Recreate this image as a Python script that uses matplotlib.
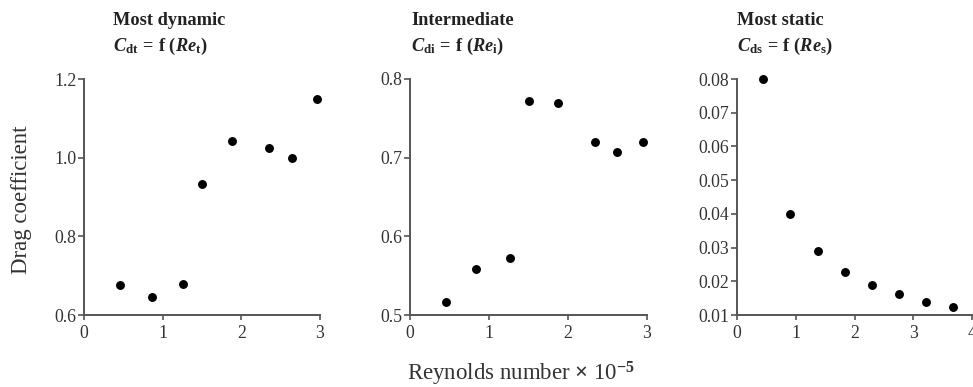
import matplotlib
matplotlib.use("Agg")
import matplotlib.pyplot as plt
from matplotlib.ticker import FormatStrFormatter

plt.rcParams['font.family'] = ['Liberation Serif', 'DejaVu Serif']
plt.rcParams['mathtext.fontset'] = 'custom'
plt.rcParams['mathtext.rm'] = 'Liberation Serif:bold'
plt.rcParams['mathtext.it'] = 'Liberation Serif:italic:bold'
plt.rcParams['mathtext.bf'] = 'Liberation Serif:bold'

# Data
re_dyn = [0.46, 0.86, 1.26, 1.50, 1.88, 2.35, 2.64, 2.96]
cd_dyn = [0.675, 0.647, 0.680, 0.933, 1.043, 1.025, 1.000, 1.150]

re_int = [0.45, 0.84, 1.26, 1.51, 1.87, 2.34, 2.62, 2.95]
cd_int = [0.517, 0.559, 0.573, 0.772, 0.769, 0.720, 0.707, 0.720]

re_sta = [0.45, 0.91, 1.38, 1.84, 2.29, 2.75, 3.21, 3.67]
cd_sta = [0.080, 0.0401, 0.029, 0.0228, 0.0188, 0.0162, 0.0139, 0.0124]

titles = ["Most dynamic", "Intermediate", "Most static"]
subtitles = [r"$C_{\mathrm{dt}}\,\mathrm{=\,f\ (}Re_{\mathrm{t}}\mathrm{)}$",
             r"$C_{\mathrm{di}}\,\mathrm{=\,f\ (}Re_{\mathrm{i}}\mathrm{)}$",
             r"$C_{\mathrm{ds}}\,\mathrm{=\,f\ (}Re_{\mathrm{s}}\mathrm{)}$"]
xlims = [(0, 3), (0, 3), (0, 4)]
xticks = [[0, 1, 2, 3], [0, 1, 2, 3], [0, 1, 2, 3, 4]]
ylims = [(0.6, 1.2), (0.5, 0.8), (0.01, 0.08)]
yticks = [[0.6, 0.8, 1.0, 1.2], [0.5, 0.6, 0.7, 0.8],
          [0.01, 0.02, 0.03, 0.04, 0.05, 0.06, 0.07, 0.08]]
yfmt = ['%.1f', '%.1f', '%.2f']

W, H = 973, 387
fig = plt.figure(figsize=(W / 100, H / 100), dpi=100)

# axes boxes in pixels: left, right, top, bottom
boxes = [(84, 320, 79, 315), (410, 647, 79, 315), (737, 972, 79, 315)]
title_x = [113, 411, 737]
data = [(re_dyn, cd_dyn), (re_int, cd_int), (re_sta, cd_sta)]

txtcol = '#333333'
spcol = '#555555'

for i, (l, r, t, b) in enumerate(boxes):
    ax = fig.add_axes([l / W, 1 - b / H, (r - l) / W, (b - t) / H])
    x, y = data[i]
    ax.plot(x, y, 'o', color='black', markersize=5.4, clip_on=False, zorder=5)
    ax.set_xlim(*xlims[i])
    ax.set_ylim(*ylims[i])
    ax.set_xticks(xticks[i])
    ax.set_yticks(yticks[i])
    ax.yaxis.set_major_formatter(FormatStrFormatter(yfmt[i]))
    for s in ['top', 'right']:
        ax.spines[s].set_visible(False)
    for s in ['left', 'bottom']:
        ax.spines[s].set_color(spcol)
        ax.spines[s].set_linewidth(1.4)
    ax.tick_params(direction='out', width=1.2, color=spcol,
                   labelsize=12.8, labelcolor=txtcol)
    ax.tick_params(axis='y', length=4.5, pad=1.0)
    ax.tick_params(axis='x', length=3.8, pad=3.5)
    ax.patch.set_visible(False)
    fig.text(title_x[i] / W, 1 - 25 / H, titles[i], fontsize=13.2,
             fontweight='bold', color='#222222', ha='left', va='baseline')
    fig.text(title_x[i] / W, 1 - 51 / H, subtitles[i], fontsize=13.2,
             color='#222222', ha='left', va='baseline')

fig.text(22 / W, 1 - 200 / H, 'Drag coefficient', rotation=90,
         fontsize=16.5, color=txtcol, ha='center', va='center')
fig.text(521.5 / W, 1 - 381 / H, r'Reynolds number $\times$ 10$^{-5}$',
         fontsize=16.5, color=txtcol, ha='center', va='baseline')

fig.savefig('out.png', dpi=100)
